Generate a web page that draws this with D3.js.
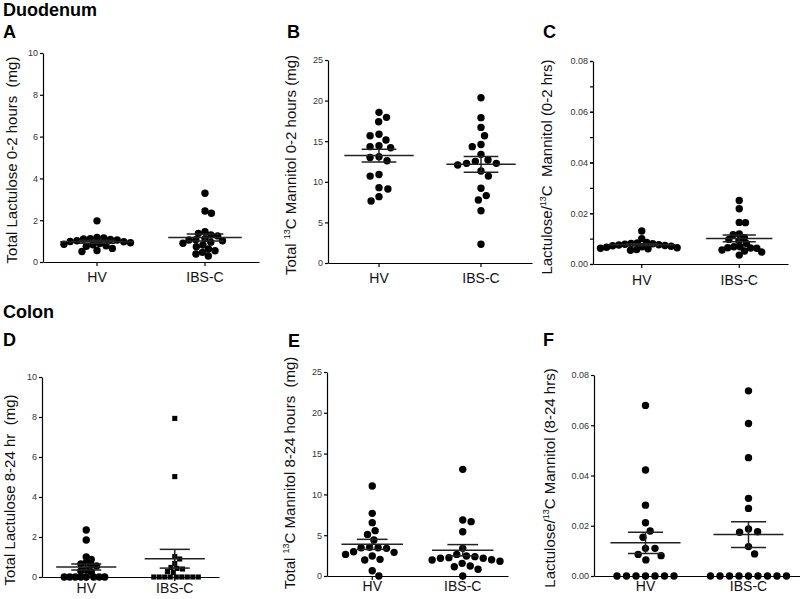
<!DOCTYPE html>
<html lang="en">
<head>
<meta charset="UTF-8">
<title>Intestinal permeability: Duodenum and Colon</title>
<style>
    body { margin: 0; padding: 0; background: #fff; }
    svg { font-family: Arial, "Liberation Sans", Helvetica, sans-serif; }
    .heading { font-weight: bold; font-size: 18px; fill: #000; }
    .ytitle { font-size: 15px; fill: #111; white-space: pre; }
    .y-axis text { font-size: 9px; fill: #333; }
    .x-axis text { font-size: 14px; fill: #111; }
    .axis path, .axis line { stroke: #000; stroke-width: 1.2px; }
    .stat line { stroke: #222; stroke-width: 1.5px; }
</style>
</head>
<body>
<svg id="chart" width="800" height="599"></svg>

<script src="https://d3js.org/d3.v7.min.js"></script>
<script>
// groups and tick labels
const groups = ["HV", "IBS-C"];
const ticksMg10 = [0, 2, 4, 6, 8, 10];
const ticksMg25 = [0, 5, 10, 15, 20, 25];
const ticksRatio = [0, 0.02, 0.04, 0.06, 0.08];

// Duodenum (0-2 h)
const duoLactHV = [1.97, 1.18, 1.15, 1.12, 1.10, 1.08, 1.05, 1.02, 0.98, 0.97, 0.92, 0.88, 0.85, 0.82, 0.78, 0.75, 0.65, 0.55, 0.50];
const duoLactIBS = [3.29, 2.44, 2.33, 1.45, 1.37, 1.29, 1.25, 1.12, 1.07, 1.05, 1.02, 0.95, 0.90, 0.81, 0.73, 0.62, 0.54, 0.46, 0.38, 0.29];
const duoMannHV = [18.55, 17.94, 17.4, 15.85, 15.68, 15.15, 14.45, 14.2, 14.33, 13.0, 12.6, 13.1, 10.7, 10.9, 9.28, 9.11, 8.17, 7.64];
const duoMannIBS = [20.36, 17.9, 16.7, 15.68, 14.6, 14.33, 13.38, 12.68, 12.27, 12.07, 12.27, 12.52, 11.33, 10.7, 9.2, 8.3, 7.76, 6.44, 2.3];
const duoRatioHV = [0.0130, 0.0100, 0.0085, 0.0083, 0.0081, 0.0080, 0.0078, 0.0076, 0.0075, 0.0073, 0.0072, 0.0070, 0.0068, 0.0066, 0.0064, 0.0062, 0.0060, 0.0057, 0.0054];
const duoRatioIBS = [0.0250, 0.0218, 0.0164, 0.0163, 0.0118, 0.0115, 0.0104, 0.0097, 0.0092, 0.0081, 0.0068, 0.0068, 0.0064, 0.0063, 0.0062, 0.0055, 0.0051, 0.0047, 0.0035];

// Colon (8-24 h)
const colLactHV = [2.35, 1.85, 1.0, 0.88, 0.72, 0.65, 0.6, 0.55, 0.35, 0.3, 0.25, 0, 0, 0, 0, 0, 0, 0, 0];
const colLactIBS = [7.93, 5.02, 1.02, 0.9, 0.68, 0.48, 0.43, 0.4, 0.27, 0.23, 0, 0, 0, 0, 0, 0, 0, 0, 0];
const colMannHV = [11.03, 7.68, 6.54, 5.56, 5.1, 4.41, 3.51, 3.47, 3.47, 3.39, 2.98, 2.9, 2.65, 2.45, 2.04, 1.96, 0.65, 0];
const colMannIBS = [13.07, 6.86, 6.66, 5.43, 3.39, 2.65, 2.45, 2.37, 2.25, 2.17, 2.17, 2.0, 1.96, 1.8, 1.55, 1.23, 1.14, 0.82, 0];
const colRatioHV = [0.0679, 0.0422, 0.0282, 0.0212, 0.0179, 0.0154, 0.0110, 0.0110, 0.0086, 0.0081, 0.0064, 0, 0, 0, 0, 0, 0, 0];
const colRatioIBS = [0.0737, 0.0607, 0.0471, 0.0309, 0.0269, 0.0187, 0.0176, 0.0174, 0.0117, 0.0088, 0, 0, 0, 0, 0, 0, 0, 0, 0];

const svg = d3.select("#chart");
const fmtInt = d3.format("d");
const fmtRatio = d3.format(".2f");

const sup13 = (a, b) => [{t: a}, {t: "13", sup: true}, {t: b}];

const panels = [
    {label: "A", hv: duoLactHV, ibs: duoLactIBS, max: 10, ticks: ticksMg10, fmt: fmtInt, gap: 6.8,
     left: 43, right: 259, top: 53, bottom: 262, pad: 6, tx: 17, ty: 160,
     title: [{t: "Total Lactulose 0-2 hours  (mg)"}], lx: 3, ly: 38},
    {label: "B", hv: duoMannHV, ibs: duoMannIBS, max: 25, ticks: ticksMg25, fmt: fmtInt, gap: 9,
     left: 328, right: 532, top: 60, bottom: 263, pad: 6, tx: 296, ty: 165,
     title: sup13("Total ", "C Mannitol 0-2 hours (mg)"), lx: 287, ly: 38},
    {label: "C", hv: duoRatioHV, ibs: duoRatioIBS, max: 0.08, ticks: ticksRatio, fmt: fmtRatio, minor: 0.01, gap: 6.2,
     left: 593, right: 788, top: 61, bottom: 264, pad: 7, tx: 552, ty: 167,
     title: sup13("Lactulose/", "C  Mannitol (0-2 hrs)"), lx: 543, ly: 38},
    {label: "D", hv: colLactHV, ibs: colLactIBS, max: 10, ticks: ticksMg10, fmt: fmtInt, square: true, gap: 5.5,
     left: 42, right: 219, top: 377, bottom: 577, pad: 2, tx: 15, ty: 490,
     title: [{t: "Total Lactulose 8-24 hr  (mg)"}], lx: 3, ly: 346},
    {label: "E", hv: colMannHV, ibs: colMannIBS, max: 25, ticks: ticksMg25, fmt: fmtInt, gap: 8.5,
     left: 327, right: 508, top: 372, bottom: 576, pad: 1, tx: 295, ty: 473,
     title: sup13("Total ", "C Mannitol 8-24 hours  (mg)"), lx: 288, ly: 347},
    {label: "F", hv: colRatioHV, ibs: colRatioIBS, max: 0.08, ticks: ticksRatio, fmt: fmtRatio, gap: 9.5,
     left: 594, right: 800, top: 375, bottom: 576, pad: 1, tx: 555, ty: 478,
     title: sup13("Lactulose/", "C Mannitol (8-24 hrs)"), lx: 543, ly: 346}
];

// section headings
svg.append("text").attr("class", "heading").attr("x", 3).attr("y", 16).text("Duodenum");
svg.append("text").attr("class", "heading").attr("x", 3).attr("y", 318).text("Colon");

// simple beeswarm: place each point at the free x offset closest to the centre
function swarm(vals, y, dist) {
    const pts = vals.map(v => ({v: v, py: y(v), dx: 0}))
        .sort((a, b) => a.py - b.py);
    const placed = [];
    pts.forEach(p => {
        const near = placed.filter(q => Math.abs(q.py - p.py) < dist);
        const cands = [0];
        near.forEach(q => {
            const w = Math.sqrt(dist * dist - (q.py - p.py) ** 2);
            cands.push(q.dx - w, q.dx + w);
        });
        const ok = cands.filter(c => near.every(q => Math.hypot(c - q.dx, p.py - q.py) >= dist - 1e-6));
        const nl = placed.filter(q => q.dx < -0.5).length;
        const nr = placed.filter(q => q.dx > 0.5).length;
        ok.sort((a, b) => (Math.round(Math.abs(a) * 100) - Math.round(Math.abs(b) * 100)) || (nr <= nl ? b - a : a - b));
        p.dx = ok[0];
        placed.push(p);
    });
    return pts;
}

panels.forEach(pn => {
    const g = svg.append("g");

    const x = d3.scaleBand().domain(groups).range([pn.left, pn.right]).padding(0);
    const y = d3.scaleLinear().domain([0, pn.max]).range([pn.bottom, pn.top]);
    const bw = x.bandwidth();

    // panel letter
    svg.append("text").attr("class", "heading").attr("x", pn.lx).attr("y", pn.ly).text(pn.label);

    // y axis (with minor ticks where the original has them)
    if (pn.minor) {
        g.append("g")
            .attr("class", "axis")
            .attr("transform", "translate(" + pn.left + ",0)")
            .call(d3.axisLeft(y).tickValues(d3.range(0, pn.max + 1e-9, pn.minor)).tickSize(3).tickSizeOuter(0).tickFormat(""))
            .call(a => a.select(".domain").remove());
    }
    g.append("g")
        .attr("class", "axis y-axis")
        .attr("transform", "translate(" + pn.left + ",0)")
        .call(d3.axisLeft(y).tickValues(pn.ticks).tickFormat(pn.fmt).tickSize(3).tickSizeOuter(0).tickPadding(2));

    // x axis
    g.append("g")
        .attr("class", "axis x-axis")
        .attr("transform", "translate(0," + pn.bottom + ")")
        .call(d3.axisBottom(x).tickSize(4).tickSizeOuter(0).tickPadding(pn.pad));

    // y title
    const t = g.append("text")
        .attr("class", "ytitle")
        .attr("text-anchor", "middle")
        .attr("transform", "translate(" + pn.tx + "," + pn.ty + ") rotate(-90)");
    pn.title.forEach(part => {
        if (part.sup) {
            t.append("tspan").attr("dy", -6).style("font-size", "9px").text(part.t);
        } else {
            const s = t.append("tspan").text(part.t);
            if (t.selectAll("tspan").size() > 1) s.attr("dy", 6);
        }
    });

    // points and mean +/- SEM for each group
    [["HV", pn.hv], ["IBS-C", pn.ibs]].forEach(([grp, vals]) => {
        const cx = x(grp) + bw / 2;
        const pts = swarm(vals, y, pn.gap);
        const useSquare = pn.square && grp === "IBS-C";

        if (useSquare) {
            g.selectAll(null).data(pts).enter().append("path")
                .attr("d", d3.symbol(d3.symbolSquare, 26))
                .attr("transform", d => "translate(" + (cx + d.dx) + "," + d.py + ")")
                .attr("fill", "#000");
        } else {
            g.selectAll(null).data(pts).enter().append("circle")
                .attr("cx", d => cx + d.dx)
                .attr("cy", d => d.py)
                .attr("r", 3.7)
                .attr("fill", "#000");
        }

        const m = d3.mean(vals);
        const sem = d3.deviation(vals) / Math.sqrt(vals.length);
        const st = g.append("g").attr("class", "stat");
        st.append("line")
            .attr("x1", cx - bw * 0.34).attr("x2", cx + bw * 0.34)
            .attr("y1", y(m)).attr("y2", y(m));
        [m - sem, m + sem].forEach(v => {
            st.append("line")
                .attr("x1", cx - bw * 0.17).attr("x2", cx + bw * 0.17)
                .attr("y1", y(v)).attr("y2", y(v));
        });
        st.append("line")
            .attr("x1", cx).attr("x2", cx)
            .attr("y1", y(m - sem)).attr("y2", y(m + sem));
    });
});
</script>
</body>
</html>
